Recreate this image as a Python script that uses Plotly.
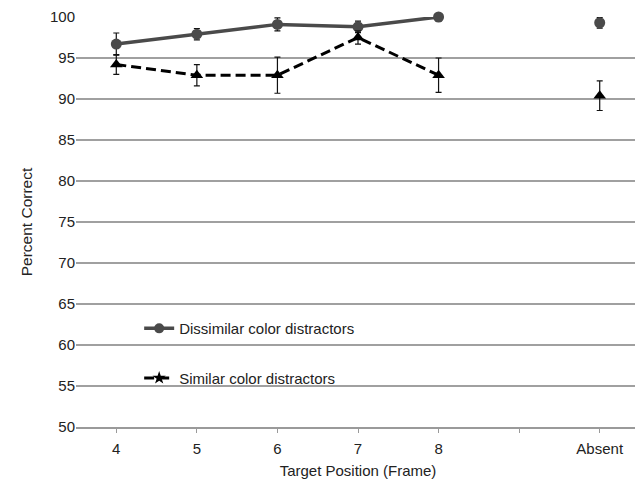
import plotly.graph_objects as go

categories = ["4", "5", "6", "7", "8", " ", "Absent"]
dissimilar = [96.7, 97.9, 99.1, 98.8, 100.0, None, 99.3]
dissimilar_err = [1.35, 0.7, 0.8, 0.7, 0.5, None, 0.65]
similar = [94.2, 92.9, 92.9, 97.5, 92.9, None, 90.4]
similar_err = [1.2, 1.3, 2.2, 0.8, 2.1, None, 1.8]
y_ticks = [50, 55, 60, 65, 70, 75, 80, 85, 90, 95, 100]

FONT = "Liberation Sans, Arial, Helvetica, sans-serif"
DASH = "10px,5px"

fig = go.Figure()

fig.add_trace(go.Scatter(
    x=categories, y=dissimilar, mode="lines+markers",
    line=dict(color="#4a4a4a", width=3.5),
    marker=dict(symbol="circle", size=11, color="#4a4a4a"),
    error_y=dict(type="data", array=dissimilar_err, color="#111111", thickness=1.2, width=3),
    cliponaxis=False, showlegend=False,
))
fig.add_trace(go.Scatter(
    x=categories, y=similar, mode="lines+markers",
    line=dict(color="#000000", width=3, dash=DASH),
    marker=dict(symbol="triangle-up", size=11, color="#000000"),
    error_y=dict(type="data", array=similar_err, color="#111111", thickness=1.2, width=3),
    cliponaxis=False, showlegend=False,
))

# legend-only entries
fig.add_trace(go.Scatter(
    x=[None], y=[None], mode="lines+markers", name="Dissimilar color distractors",
    line=dict(color="#4a4a4a", width=3.5),
    marker=dict(symbol="circle", size=10, color="#4a4a4a"),
    legend="legend",
))
fig.add_trace(go.Scatter(
    x=[None], y=[None], mode="lines+markers", name="Similar color distractors",
    line=dict(color="#000000", width=3, dash=DASH),
    marker=dict(symbol="star", size=10, color="#000000"),
    legend="legend2",
))

# the page body has an 8px default margin; size the figure to compensate
fig.update_layout(
    width=635, height=474,
    margin=dict(l=68, r=3, t=9, b=55),
    paper_bgcolor="white", plot_bgcolor="white",
    font=dict(family=FONT, size=15, color="#222222"),
    xaxis=dict(
        type="category", categoryorder="array", categoryarray=categories,
        range=[-0.5, 6.5], automargin=False,
        showgrid=False, showline=True, linecolor="#9a9a9a", linewidth=1.5,
        ticks="outside", ticklen=4, tickcolor="#9a9a9a", ticklabelstandoff=3,
        tickfont=dict(size=15, family=FONT, color="#222222"),
        title=dict(text="Target Position (Frame)", font=dict(size=15, family=FONT), standoff=10),
        zeroline=False,
    ),
    yaxis=dict(
        range=[50, 100], tickvals=y_ticks, automargin=False,
        ticklabeloverflow="allow",
        showgrid=True, gridcolor="#a0a0a0", gridwidth=1.5,
        showline=False, zeroline=False, ticks="",
        tickfont=dict(size=15, family=FONT, color="#222222"),
        title=dict(text="Percent Correct", font=dict(size=15.5, family=FONT), standoff=13),
    ),
    legend=dict(x=0.112, y=0.24, xanchor="left", yanchor="middle",
                bgcolor="rgba(0,0,0,0)", font=dict(size=15, family=FONT)),
    legend2=dict(x=0.112, y=0.119, xanchor="left", yanchor="middle",
                 bgcolor="rgba(0,0,0,0)", font=dict(size=15, family=FONT)),
)

fig.write_html("out.html")
